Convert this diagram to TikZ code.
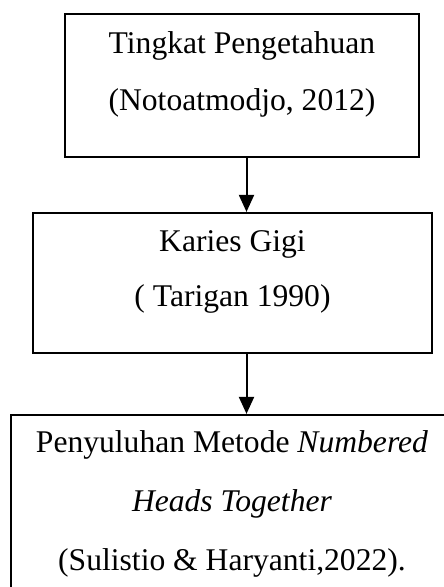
\documentclass[tikz,border=0pt]{standalone}
\usepackage{fontspec}
\setmainfont{Liberation Serif}
\usetikzlibrary{arrows.meta}

\begin{document}
\begin{tikzpicture}[x=1pt,y=-1pt,
    kotak/.style={draw, line width=2.2pt, anchor=north, align=center,
      inner ysep=17.5pt, text depth=29pt,
      font=\fontsize{31.6}{#1}\selectfont},
    kotak/.default=57,
    panah/.style={line width=2pt, -{Triangle[length=17pt,width=15pt]}}]
    \useasboundingbox (0,0) rectangle (444,587);
    \clip (0,0) rectangle (444,587);
    \node [kotak, minimum width=354pt] (pengetahuan) at (242,12.9)
      {Tingkat Pengetahuan\\(Notoatmodjo, 2012)};
    \node [kotak=55, minimum width=399pt] (karies) at (232.5,211.9)
      {Karies Gigi\\( Tarigan 1990)};
    \node [kotak=59, minimum width=442pt, inner ysep=16pt] (penyuluhan) at (232,413.9)
      {Penyuluhan Metode \textit{Numbered}\\\textit{Heads Together}\\(Sulistio \& Haryanti,2022).};
    \coordinate (sumbu) at (246.5,0);
    \draw [panah] (sumbu |- pengetahuan.south) -- (sumbu |- karies.north);
    \draw [panah] (sumbu |- karies.south) -- (sumbu |- penyuluhan.north);
\end{tikzpicture}
\end{document}
